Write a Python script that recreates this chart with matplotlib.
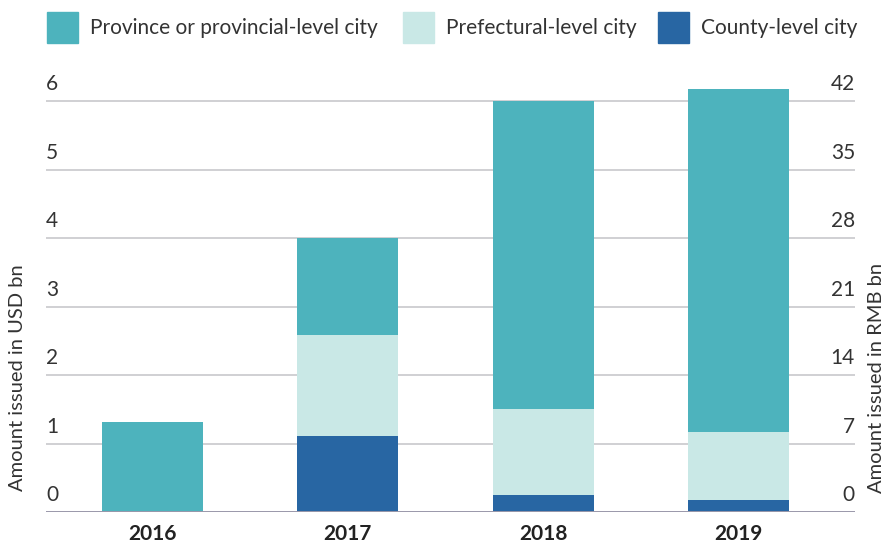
import matplotlib
matplotlib.use("Agg")
import matplotlib.pyplot as plt
import matplotlib.transforms as mtransforms
from matplotlib.patches import Rectangle

years = ["2016", "2017", "2018", "2019"]
province = [1.31, 1.42, 4.50, 5.01]
prefectural = [0.0, 1.47, 1.25, 0.99]
county = [0.0, 1.11, 0.25, 0.18]
usd_ticks = [0, 1, 2, 3, 4, 5, 6]
rmb_ticks = [0, 7, 14, 21, 28, 35, 42]
series_names = ["Province or provincial-level city", "Prefectural-level city", "County-level city"]
colors = ["#4db3bd", "#c9e8e6", "#2866a3"]

plt.rcParams['font.family'] = ['Lato', 'DejaVu Sans']

W, H = 887, 543
fig = plt.figure(figsize=(W / 100, H / 100), dpi=100)
ax_l, ax_r, ax_b = 46 / W, 855 / W, 1 - 512 / H
ymax = 6.31
ax_top_px = 512 - 68.5 * ymax
ax = fig.add_axes([ax_l, ax_b, ax_r - ax_l, (512 - ax_top_px) / H])
ax.set_xlim(-0.545, 3.597)
ax.set_ylim(0, ymax)

x = list(range(len(years)))
bw = 0.517
ax.bar(x, county, width=bw, color=colors[2], zorder=3)
ax.bar(x, prefectural, width=bw, bottom=county, color=colors[1], zorder=3)
bottom2 = [c + p for c, p in zip(county, prefectural)]
ax.bar(x, province, width=bw, bottom=bottom2, color=colors[0], zorder=3)

for t in usd_ticks[1:]:
    ax.axhline(t, color="#c8c8cc", lw=1.2, zorder=1)
ax.axhline(0, color="#9a98aa", lw=1.4, zorder=4)

for s in ax.spines.values():
    s.set_visible(False)
ax.set_xticks([])
ax.set_yticks([])

trans = mtransforms.blended_transform_factory(ax.transAxes, ax.transData)
off = mtransforms.ScaledTranslation(0, 5 / 72, fig.dpi_scale_trans)
for u, r in zip(usd_ticks, rmb_ticks):
    ax.text(0.0, u, str(u), transform=trans + off, ha="left", va="bottom",
            fontsize=15, color="#333333")
    ax.text(1.0, u, str(r), transform=trans + off, ha="right", va="bottom",
            fontsize=15, color="#333333")

for xi, yl in zip(x, years):
    ax.text(xi, 0, yl, transform=ax.transData + mtransforms.ScaledTranslation(0, -9 / 72, fig.dpi_scale_trans),
            ha="center", va="top", fontsize=15, fontweight="bold", color="#222222")

fig.text(18 / W, 1 - 378 / H, "Amount issued in USD bn", rotation=90, ha="center", va="center",
         fontsize=14.5, color="#333333")
fig.text(877 / W, 1 - 378 / H, "Amount issued in RMB bn", rotation=90, ha="center", va="center",
         fontsize=14.5, color="#333333")

# legend
leg = [(47, series_names[0]), (403, series_names[1]), (658, series_names[2])]
for (lx, name), c in zip(leg, colors):
    fig.patches.append(Rectangle((lx / W, 1 - 43 / H), 31 / W, 31 / H, transform=fig.transFigure,
                                 color=c, zorder=5))
    fig.text((lx + 43) / W, 1 - 28 / H, name, ha="left", va="center", fontsize=15, color="#333333")

fig.savefig("out.png", dpi=100)
